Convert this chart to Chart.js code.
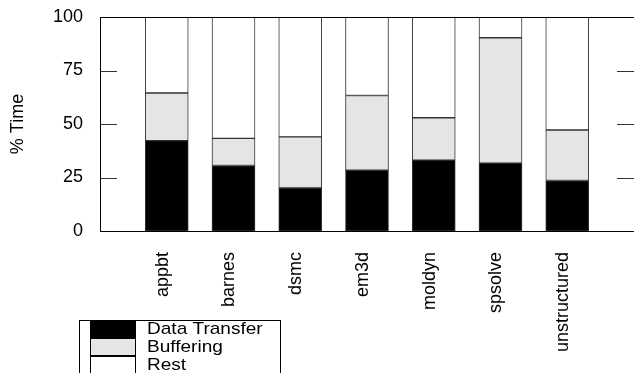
<!DOCTYPE html>
<html>
<head>
<meta charset="utf-8">
<script src="https://cdn.jsdelivr.net/npm/chart.js@4.4.1/dist/chart.umd.min.js"></script>
<style>
  html, body { margin: 0; padding: 0; background: #fff; }
  #wrap { position: relative; width: 634px; height: 373px; }
</style>
</head>
<body>
<div id="wrap"><canvas id="time-chart"></canvas></div>
<script>
const categories = ['appbt', 'barnes', 'dsmc', 'em3d', 'moldyn', 'spsolve', 'unstructured'];
const dataTransfer = [42.2, 30.6, 20.1, 28.4, 33.1, 31.7, 23.6];
const buffering = [22.3, 12.7, 23.9, 34.9, 19.8, 58.6, 23.6];
const rest = [35.5, 56.7, 56.0, 36.7, 47.1, 9.7, 52.8];
const yTicks = [0, 25, 50, 75, 100];

// empty slot at each end, like the gnuplot x range 0..8
const pad = (arr) => [null, ...arr, null];

const frameAndTicks = {
  id: 'frameAndTicks',
  afterDatasetsDraw(chart) {
    const { ctx, chartArea: a, scales } = chart;
    ctx.save();
    ctx.strokeStyle = '#333';
    ctx.lineWidth = 1;
    yTicks.forEach((v) => {
      const y = Math.round(scales.y.getPixelForValue(v)) + 0.5;
      ctx.beginPath();
      ctx.moveTo(a.left, y);
      ctx.lineTo(a.left + 17, y);
      ctx.moveTo(a.right - 17, y);
      ctx.lineTo(a.right, y);
      ctx.stroke();
    });
    ctx.strokeStyle = '#000';
    ctx.beginPath();
    ctx.moveTo(a.left + 0.5, a.bottom + 0.5);
    ctx.lineTo(a.left + 0.5, a.top + 0.5);
    ctx.lineTo(a.right, a.top + 0.5);
    ctx.moveTo(a.left, a.bottom + 0.5);
    ctx.lineTo(a.right, a.bottom + 0.5);
    ctx.stroke();
    ctx.restore();
  },
};

const boxLegend = {
  id: 'boxLegend',
  afterDraw(chart) {
    const ctx = chart.ctx;
    const x0 = 79.5, y0 = 320.5, rowH = 18;
    ctx.save();
    ctx.strokeStyle = '#000';
    ctx.lineWidth = 1;
    ctx.strokeRect(x0, y0, 201, 70);
    ctx.font = '17px "Liberation Sans", Arial, sans-serif';
    ctx.textBaseline = 'middle';
    chart.data.datasets.forEach((ds, i) => {
      const y = y0 + i * rowH;
      ctx.fillStyle = ds.backgroundColor;
      ctx.fillRect(90.5, y, 45, rowH - 1);
      ctx.strokeRect(90.5, y, 45, rowH - 1);
      ctx.fillStyle = '#000';
      ctx.save();
      ctx.translate(147, y + rowH / 2);
      ctx.scale(1.12, 1);
      ctx.fillText(ds.label, 0, 0);
      ctx.restore();
    });
    ctx.restore();
  },
};

const barStyle = { barThickness: 43, borderColor: '#333', borderWidth: 1, borderSkipped: false };

new Chart(document.getElementById('time-chart'), {
  type: 'bar',
  data: {
    labels: pad(categories),
    datasets: [
      { label: 'Data Transfer', data: pad(dataTransfer), backgroundColor: '#000000', ...barStyle },
      { label: 'Buffering', data: pad(buffering), backgroundColor: '#e5e5e5', ...barStyle },
      { label: 'Rest', data: pad(rest), backgroundColor: '#ffffff', ...barStyle },
    ],
  },
  options: {
    responsive: true,
    maintainAspectRatio: false,
    animation: false,
    layout: { padding: { top: 17, right: -2, bottom: 0, left: 0 } },
    plugins: {
      legend: { display: false },
      tooltip: { enabled: false },
    },
    scales: {
      x: {
        stacked: true,
        offset: false,
        grid: { display: false, drawTicks: false },
        border: { display: false },
        ticks: {
          autoSkip: false,
          minRotation: 90,
          maxRotation: 90,
          padding: 21,
          labelOffset: -4,
          color: '#000',
          font: { family: '"Liberation Sans", Arial, sans-serif', size: 18 },
        },
        afterFit: (scale) => {
          scale.height = 142;
          scale.paddingLeft = 0;
          scale.paddingRight = 0;
        },
      },
      y: {
        stacked: true,
        min: 0,
        max: 100,
        afterBuildTicks: (scale) => { scale.ticks = yTicks.map((v) => ({ value: v })); },
        grid: { display: false, drawTicks: false },
        border: { display: false },
        ticks: {
          padding: 17,
          color: '#000',
          font: { family: '"Liberation Sans", Arial, sans-serif', size: 18 },
        },
        title: {
          display: true,
          text: '% Time',
          color: '#000',
          padding: { top: 7, bottom: 0 },
          font: { family: '"Liberation Sans", Arial, sans-serif', size: 18 },
        },
        afterFit: (scale) => {
          scale.width = 100;
          scale.paddingTop = 0;
          scale.paddingBottom = 0;
        },
      },
    },
  },
  plugins: [frameAndTicks, boxLegend],
});
</script>
</body>
</html>
